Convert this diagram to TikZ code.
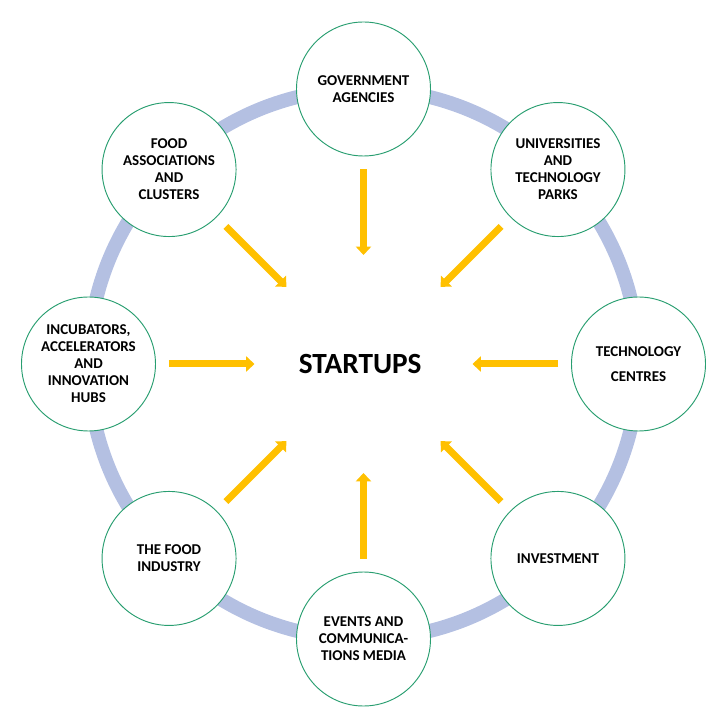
\documentclass[tikz,border=0pt]{standalone}
\usepackage{fontspec}
\setmainfont{Carlito}
\usepackage{tikz}
\usetikzlibrary{arrows.meta}
\definecolor{ringblue}{RGB}{180,192,226}
\definecolor{circgreen}{RGB}{40,158,112}
\definecolor{arrowyellow}{RGB}{255,192,0}
\tikzset{
  actornode/.style={circle,draw=circgreen,line width=0.8pt,fill=white,minimum size=4.02cm,inner sep=0pt,
    align=center,font=\fontsize{12.8}{14.5}\selectfont\bfseries},
  hubnode/.style={align=center,font=\fontsize{25}{29}\selectfont\bfseries},
  ringline/.style={draw=ringblue,line width=0.42cm},
  feedarr/.style={-{Triangle[width=0.45cm,length=0.25cm]},line width=0.21cm,color=arrowyellow,
    shorten <=0.39cm,shorten >=3.27cm}
}

\begin{document}
\begin{tikzpicture}
  \useasboundingbox (-10.905,-10.65) rectangle (10.695,10.92);
  \draw[ringline] (0,0) circle (8.25cm);

  \node[hubnode] (startups) at (-0.1,0) {STARTUPS};
  \node[actornode] (gov) at (90:8.25) {GOVERNMENT\\AGENCIES};
  \node[actornode] (univ) at (45:8.25) {UNIVERSITIES\\AND\\TECHNOLOGY\\PARKS};
  \node[actornode] (techc) at (0:8.25) {TECHNOLOGY\\[0.22cm]CENTRES};
  \node[actornode] (invest) at (-45:8.25) {INVESTMENT};
  \node[actornode] (events) at (-90:8.25) {EVENTS AND\\COMMUNICA-\\TIONS MEDIA};
  \node[actornode] (foodind) at (-135:8.25) {THE FOOD\\INDUSTRY};
  \node[actornode] (incub) at (180:8.25) {INCUBATORS,\\ACCELERATORS\\AND\\INNOVATION\\HUBS};
  \node[actornode] (foodassoc) at (135:8.25) {FOOD\\ASSOCIATIONS\\AND\\CLUSTERS};

  \coordinate (hub) at (0,0);
  \draw[feedarr] (gov)--(hub); \draw[feedarr] (univ)--(hub); \draw[feedarr] (techc)--(hub);
  \draw[feedarr] (invest)--(hub); \draw[feedarr] (events)--(hub); \draw[feedarr] (foodind)--(hub);
  \draw[feedarr] (incub)--(hub); \draw[feedarr] (foodassoc)--(hub);
\end{tikzpicture}
\end{document}
